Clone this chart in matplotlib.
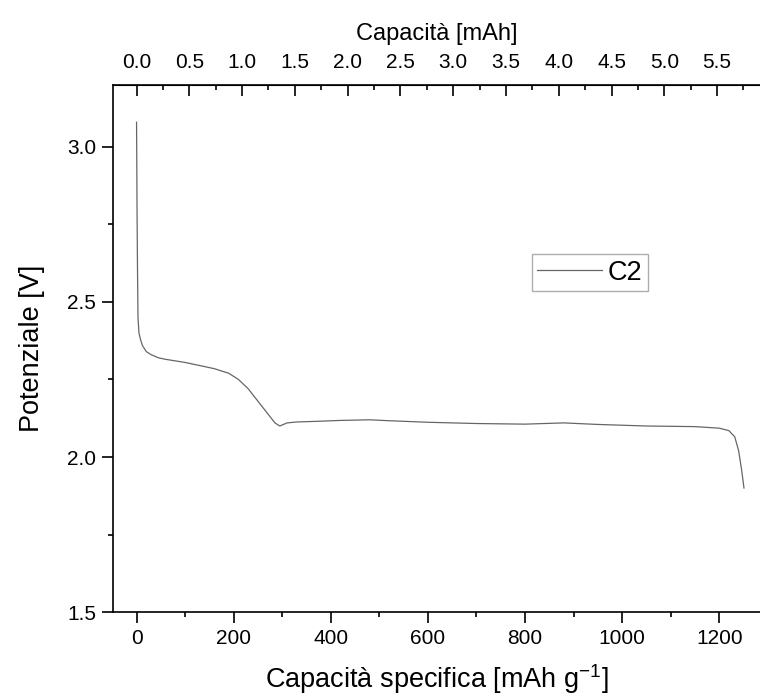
import numpy as np
import matplotlib
matplotlib.use('Agg')
from matplotlib import pyplot as plt
from matplotlib.ticker import MultipleLocator, FixedLocator, FormatStrFormatter

plt.rcParams['font.family'] = ['Liberation Sans', 'DejaVu Sans']

# ------------------------------------------------
# DISCHARGE CURVE C2
cap_spec = [0, 0.5, 1, 2, 3, 5, 8, 12, 20, 30, 45, 60, 80, 100, 130, 160, 190, 210, 230,
            250, 270, 285, 295, 310, 330, 370, 420, 480, 520, 600, 700, 800, 880, 950,
            1050, 1150, 1200, 1220, 1232, 1240, 1246, 1251]
potenziale = [3.08, 2.95, 2.80, 2.60, 2.45, 2.40, 2.38, 2.36, 2.34, 2.33, 2.32, 2.315,
              2.31, 2.305, 2.295, 2.285, 2.27, 2.25, 2.22, 2.18, 2.14, 2.11, 2.10, 2.11,
              2.113, 2.115, 2.118, 2.12, 2.117, 2.112, 2.108, 2.106, 2.11, 2.105, 2.10,
              2.098, 2.093, 2.085, 2.065, 2.02, 1.96, 1.90]
massa_g = 0.0046  # active mass, converts mAh g-1 -> mAh
top_ticks = [0.0, 0.5, 1.0, 1.5, 2.0, 2.5, 3.0, 3.5, 4.0, 4.5, 5.0, 5.5]

fig = plt.figure(figsize=(7.6, 7.0), dpi=100)
ax = fig.add_axes([0.149, 0.1257, 0.851, 0.7529])

ax.plot(cap_spec, potenziale, color='#666666', lw=0.9, label='C2')

ax.set_xlim(-48, 1284)
ax.set_ylim(1.5, 3.2)
ax.xaxis.set_major_locator(MultipleLocator(200))
ax.xaxis.set_minor_locator(MultipleLocator(100))
ax.yaxis.set_major_locator(MultipleLocator(0.5))
ax.yaxis.set_minor_locator(MultipleLocator(0.25))
ax.yaxis.set_major_formatter(FormatStrFormatter('%.1f'))
ax.tick_params(which='major', direction='out', length=8, width=1.2, labelsize=15, pad=4.5)
ax.tick_params(which='minor', direction='out', length=3.6, width=1.2)
ax.tick_params(top=False, right=False)
for s in ax.spines.values():
    s.set_linewidth(1.2)
ax.spines['right'].set_visible(False)

ax.set_xlabel('Capacità specifica [mAh g$^{\\mathregular{-1}}$]', fontsize=19.5, labelpad=10)
ax.set_ylabel('Potenziale [V]', fontsize=19.5, labelpad=16)

# top axis in mAh
top = ax.secondary_xaxis('top', functions=(lambda x: x * massa_g, lambda x: x / massa_g))
top.xaxis.set_major_locator(FixedLocator(top_ticks))
top.xaxis.set_minor_locator(FixedLocator([t + 0.25 for t in top_ticks]))
top.xaxis.set_major_formatter(FormatStrFormatter('%.1f'))
top.tick_params(which='major', direction='in', length=8, width=1.2, labelsize=15, pad=9)
top.tick_params(which='minor', direction='in', length=3.6, width=1.2)
top.set_xlabel('Capacità [mAh]', fontsize=17, labelpad=10)

leg = ax.legend(loc='upper left', bbox_to_anchor=(0.647, 0.679), fontsize=19.5,
                handlelength=2.4, frameon=True, fancybox=False, borderpad=0.2,
                handletextpad=0.2, borderaxespad=0)
leg.get_frame().set_edgecolor('#999999')
leg.get_frame().set_linewidth(1.0)

fig.savefig('out.png', dpi=100)
